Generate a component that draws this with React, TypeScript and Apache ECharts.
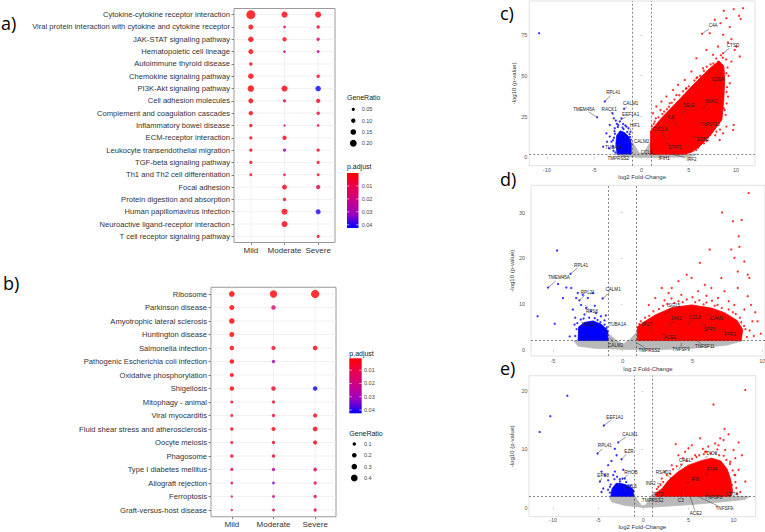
import React, { useEffect, useRef } from "react";
import * as echarts from "echarts";

const FONT = "'Liberation Sans', Arial, Helvetica, sans-serif";
const PANEL_FONT = "'Open Sans', 'Noto Sans', sans-serif";

// ---------------- Panel a (KEGG dot plot) ----------------
const severities = ["Mild", "Moderate", "Severe"];
const aPathways = [
  "Cytokine-cytokine receptor interaction",
  "Viral protein interaction with cytokine and cytokine receptor",
  "JAK-STAT signaling pathway",
  "Hematopoietic cell lineage",
  "Autoimmune thyroid disease",
  "Chemokine signaling pathway",
  "PI3K-Akt signaling pathway",
  "Cell adhesion molecules",
  "Complement and coagulation cascades",
  "Inflammatory bowel disease",
  "ECM-receptor interaction",
  "Leukocyte transendothelial migration",
  "TGF-beta signaling pathway",
  "Th1 and Th2 cell differentiation",
  "Focal adhesion",
  "Protein digestion and absorption",
  "Human papillomavirus infection",
  "Neuroactive ligand-receptor interaction",
  "T cell receptor signaling pathway",
];
// GeneRatio per pathway: [Mild, Moderate, Severe]
const aGeneRatio: (number | null)[][] = [
  [0.29, 0.17, 0.17],
  [0.125, 0.03, 0.06],
  [0.145, 0.1, 0.06],
  [0.125, 0.03, 0.04],
  [0.06, null, null],
  [0.145, null, 0.06],
  [0.19, 0.17, 0.145],
  [0.125, 0.06, 0.1],
  [0.1, null, 0.06],
  [0.06, 0.015, 0.03],
  [0.055, 0.1, null],
  [0.06, 0.06, 0.06],
  [0.05, null, 0.05],
  [0.04, 0.03, 0.04],
  [null, 0.125, 0.1],
  [null, 0.06, null],
  [null, 0.17, 0.125],
  [null, 0.17, null],
  [null, null, 0.05],
];
const aPadj: (number | null)[][] = [
  [0.0005, 0.002, 0.003],
  [0.001, 0.016, 0.006],
  [0.001, 0.003, 0.016],
  [0.001, 0.022, 0.022],
  [0.002, null, null],
  [0.001, null, 0.004],
  [0.001, 0.002, 0.042],
  [0.001, 0.012, 0.004],
  [0.002, null, 0.007],
  [0.002, 0.02, 0.012],
  [0.003, 0.003, null],
  [0.003, 0.03, 0.004],
  [0.003, null, 0.004],
  [0.004, 0.013, 0.005],
  [null, 0.003, 0.012],
  [null, 0.004, null],
  [null, 0.002, 0.04],
  [null, 0.002, null],
  [null, null, 0.005],
];
const aRatioBreaks = [0.05, 0.1, 0.15, 0.2];
const aRatioLabels = ["0.05", "0.10", "0.15", "0.20"];
const aPadjBreaks = [0.01, 0.02, 0.03, 0.04];
const aPadjRange = [0, 0.0425];

// ---------------- Panel b (KEGG dot plot) ----------------
const bPathways = [
  "Ribosome",
  "Parkinson disease",
  "Amyotrophic lateral sclerosis",
  "Huntington disease",
  "Salmonella infection",
  "Pathogenic Escherichia coli infection",
  "Oxidative phosphorylation",
  "Shigellosis",
  "Mitophagy - animal",
  "Viral myocarditis",
  "Fluid shear stress and atherosclerosis",
  "Oocyte meiosis",
  "Phagosome",
  "Type I diabetes mellitus",
  "Allograft rejection",
  "Ferroptosis",
  "Graft-versus-host disease",
];
const bGeneRatio: (number | null)[][] = [
  [0.31, 0.455, 0.545],
  [0.245, 0.2, null],
  [0.29, null, null],
  [0.245, null, null],
  [0.2, 0.18, 0.23],
  [0.2, 0.11, null],
  [0.155, null, null],
  [0.2, 0.2, 0.2],
  [0.065, 0.08, null],
  [0.065, 0.09, 0.18],
  [0.11, 0.17, 0.23],
  [0.065, 0.09, 0.18],
  [0.11, 0.11, null],
  [0.08, 0.11, 0.135],
  [0.045, 0.045, 0.09],
  [0.01, 0.065, 0.09],
  [0.01, 0.065, 0.09],
];
const bPadj: (number | null)[][] = [
  [0.001, 0.001, 0.001],
  [0.002, 0.016, null],
  [0.001, null, null],
  [0.001, null, null],
  [0.002, 0.006, 0.003],
  [0.002, 0.03, null],
  [0.002, null, null],
  [0.002, 0.006, 0.041],
  [0.007, 0.008, null],
  [0.006, 0.008, 0.004],
  [0.004, 0.003, 0.003],
  [0.006, 0.006, 0.004],
  [0.008, 0.008, null],
  [0.012, 0.024, 0.014],
  [0.014, 0.034, 0.012],
  [0.016, 0.022, 0.012],
  [0.014, 0.012, 0.012],
];
const bRatioBreaks = [0.1, 0.2, 0.3, 0.4];
const bRatioLabels = ["0.1", "0.2", "0.3", "0.4"];
const bPadjBreaks = [0.01, 0.02, 0.03, 0.04];
const bPadjRange = [0.001, 0.0425];

const gradientColors = ["#FF0000", "#E8004F", "#C90089", "#9A00C3", "#0000FF"];

// ---------------- Panel c (volcano) ----------------
const cXRange = [-11.85, 12];
const cYRange = [-5.15, 95.8];
const cXTicks = [-10, -5, 0, 5, 10];
const cYTicks = [0, 25, 50, 75];
const cGreyCloud = [[-2.8, 1.9], [-1, 1.9], [-1, 10], [-0.6, 6], [-0.2, 2.5], [0.2, 2.5], [0.6, 6], [1, 10], [1, 1.9], [6, 1.9], [5, 0.4], [2, -0.1], [0, 0], [-2, 0.3]];
const cBlueCloud = [[-2.57, 2.0], [-2.7, 8.6], [-2.6, 13.5], [-2.25, 16.2], [-1.8, 15.2], [-1.35, 12.7], [-1.08, 8.6], [-1.08, 2.0]];
const cRedCloud = [[0.95, 1.9], [0.95, 16], [2.1, 24], [3.6, 33], [5.4, 44], [7.2, 54.5], [8.2, 59], [8.7, 56], [8.8, 48], [8.7, 35], [8.5, 23], [7.3, 13.5], [6.2, 7], [5.4, 3.4], [4.6, 1.9]];
const cBluePts = [[-3.87, 34.2], [-4.68, 24.5], [-1.83, 29.7], [-3.06, 27.0], [-2.92, 23.9], [-2.71, 22.5], [-3.35, 19.8], [-3.7, 14.7], [-3.35, 12.7], [-3.17, 9.6], [-2.99, 6.5], [-3.42, 5.5], [-2.29, 21.9], [-1.94, 20.4], [-1.58, 18.8], [-1.37, 17.8], [-1.16, 15.7], [-2.11, 23.9], [-2.46, 19.8], [-2.82, 17.8], [-10.81, 76.1], [-3.63, 9.6], [-4.05, 6.5], [-2.9, 12], [-2.85, 16], [-2.5, 18.6], [-2.0, 18.2], [-1.5, 15.5], [-1.2, 12.5], [-2.6, 20.5], [-1.7, 19.5], [-3.0, 10.5], [-2.95, 4], [-2.75, 3], [-1.12, 10.8], [-2.8, 14.5], [-1.9, 17.3], [-1.25, 14.2]];
const cRedPts = [[8.7, 89.8], [9.75, 90.8], [10.74, 91.4], [10.32, 86.7], [10.49, 84.7], [8.98, 85.3], [8.35, 82.2], [7.75, 84.3], [9.33, 79.8], [7.22, 76.1], [8.63, 75.1], [9.51, 72.4], [9.15, 70.3], [10.04, 67.9], [9.86, 65.8], [8.1, 67.9], [6.87, 65.8], [5.81, 60.7], [7.57, 62.8], [10.39, 61.8], [9.51, 58.7], [6.51, 54.6], [5.28, 52.6], [4.58, 47.4], [3.87, 44.4], [3.35, 41.3], [2.64, 37.2], [2.11, 34.2], [1.58, 31.1], [1.23, 27.0], [3.7, 38.2], [4.75, 42.3], [5.81, 48.5], [6.87, 50.5], [8.98, 51.5], [9.33, 45.4], [9.15, 37.2], [8.8, 29.0], [8.98, 18.8], [9.75, 19.8], [9.68, 16.8], [7.92, 15.7], [7.22, 13.7], [8.63, 14.7], [6.34, 9.6], [5.63, 8.6], [8.27, 10.6], [1.51, 23.9], [2.01, 29.0], [2.99, 33.1], [6.41, 75.7], [8.63, 63.8],
  [1.1, 19], [1.4, 22], [1.8, 24.5], [2.4, 28], [2.9, 31], [3.2, 33.5], [4.0, 38], [4.4, 40.5], [5.0, 43.5], [5.6, 47], [6.2, 50], [6.6, 53], [7.6, 57.5], [7.9, 60.5], [8.4, 62.5], [8.95, 60], [9.1, 55], [9.2, 50], [9.05, 43], [9.0, 33], [8.9, 26], [8.3, 17], [7.8, 13.5], [6.9, 10], [6.0, 6], [5.2, 3.8], [1.3, 20.5], [2.2, 26.5], [3.5, 35.5], [4.7, 42], [5.9, 49], [7.3, 57], [8.6, 61], [9.0, 40], [8.7, 30], [8.0, 20], [7.5, 16], [6.6, 8.5], [5.8, 4.5], [2.7, 29.5], [6.9, 55.5], [8.1, 58.6]];
// [gene, point x, point y, label x, label y]
const cLabels: [string, number, number, number, number][] = [
  ["C4A", 6.41, 75.7, 7.58, 80.5],
  ["CTSD", 8.63, 63.8, 9.68, 68.5],
  ["CDSN", 7.6, 44, 8.11, 47.8],
  ["SNAI1", 6.5, 30, 7.41, 34.1],
  ["SELE", 4.3, 26, 5.0, 31.5],
  ["IL6", 3.8, 19, 3.11, 24.5],
  ["TNFSF13", 6.0, 22, 7.23, 20.4],
  ["CXCL8", 2.6, 11, 1.95, 17.2],
  ["EDN2", 5.4, 13, 6.53, 11.0],
  ["STAT1", 2.6, 9, 3.54, 6.1],
  ["IFIH1", 1.9, 1.4, 2.4, -1.0],
  ["IRF2", 3.2, 2.0, 5.3, -1.2],
  ["CCL5", 1.6, 1.6, 0.55, 2.8],
  ["CALM2", -0.81, 8.2, 0.02, 9.8],
  ["TUBA1A", -2.11, 4.9, -2.9, 6.0],
  ["TMPRSS2", -1.76, 1.4, -2.45, -1.0],
  ["HIF1", -1.23, 16.8, -0.69, 19.2],
  ["EEF1A1", -2.29, 22.5, -1.14, 26.4],
  ["CALM1", -1.83, 29.7, -1.14, 32.7],
  ["RACK1", -2.9, 25.5, -3.4, 29.6],
  ["RPL41", -3.87, 34.2, -2.98, 39.6],
  ["TMEM45A", -4.68, 24.5, -6.07, 29.6],
];

// ---------------- Panel d (volcano) ----------------
const dXRange = [-6.57, 10.2];
const dYRange = [-1.38, 35.97];
const dXTicks = [-5, 0, 5, 10];
const dYTicks = [0, 10, 20, 30];
const dGreyCloud = [[-3.5, 1.95], [-1, 1.95], [-1, 3.5], [-0.5, 2.2], [0, 1.2], [0.5, 2.2], [1, 3.8], [1, 1.95], [8.6, 1.95], [7.5, 1.0], [5, 0.3], [2.5, 0], [0, 0.1], [-2, 0.3], [-3.2, 0.8]];
const dBlueCloud = [[-3.2, 2], [-3.15, 5.0], [-2.7, 6.0], [-2.1, 6.3], [-1.5, 5.5], [-1.08, 4.2], [-1.05, 2]];
const dRedCloud = [[1.05, 2], [1.05, 5.0], [1.6, 6.2], [2.34, 7.6], [3.52, 9.2], [4.94, 9.8], [6.36, 9.1], [7.3, 8.1], [8.2, 6.4], [8.6, 4.4], [8.5, 2]];
const dBluePts = [[-4.7, 21.7], [-3.74, 16.6], [-5.34, 13.6], [-4.63, 14.4], [-6.1, 7.3], [-4.87, 5.7], [-4.04, 13.6], [-3.69, 13.5], [-3.22, 12.4], [-2.86, 12], [-2.5, 11.3], [-2.15, 12.4], [-1.44, 11.2], [-3.33, 11.3], [-2.98, 9.8], [-2.62, 9.1], [-2.27, 8.4], [-1.91, 8], [-2.74, 7.7], [-1.56, 7.3], [-1.21, 7.5], [-3.8, 2.9], [-3.45, 5.5], [-4.28, 11.3], [-3.57, 8.8], [-3.1, 10.8], [-2.0, 9.6], [-3.4, 7.0], [-1.3, 6.4],
  [-3.3, 4.5], [-3.0, 6.6], [-2.4, 7.0], [-1.8, 6.5], [-1.3, 5.5], [-1.1, 3.8], [-3.4, 3.0], [-2.8, 6.8], [-2.0, 6.9], [-3.25, 5.8], [-1.6, 6.0], [-1.15, 4.8]];
const dRedPts = [[9.03, 34.3], [7.12, 30], [7.9, 28.1], [8.53, 28.4], [8.32, 24.8], [8.37, 22.5], [7.78, 21.9], [6.24, 21.9], [5.53, 19], [8.01, 20.1], [8.72, 19.3], [8.25, 17.1], [8.96, 16.4], [7.07, 15.7], [4.59, 16.4], [4.94, 15.7], [4.0, 15], [5.89, 14.2], [6.36, 13.5], [7.3, 12.8], [8.25, 13.5], [8.96, 11.7], [9.2, 9.8], [9.3, 6.2], [2.81, 13.5], [3.29, 12.4], [2.34, 11.3], [1.87, 9.8], [5.41, 12.8], [3.52, 13.5], [6.83, 11.3], [8.72, 8.8], [9.67, 6.2], [9.08, 15.7], [4.2, 12.0], [6.0, 11.8], [7.6, 10.6], [5.0, 11.5], [3.0, 10.8], [8.0, 9.8], [9.5, 8.2], [9.9, 3.5], [9.4, 3.0],
  [1.3, 6.2], [1.9, 7.4], [2.6, 8.9], [3.2, 10], [4.0, 10.6], [4.6, 11], [5.5, 10.8], [6.0, 10.3], [6.8, 9.8], [7.6, 8.8], [8.1, 7.8], [8.5, 6], [8.8, 4.5], [8.9, 2.8], [1.6, 7.0], [2.2, 8.4], [2.9, 9.6], [3.7, 10.2], [4.3, 10.4], [5.2, 10.4], [5.8, 9.9], [6.6, 9.6], [7.1, 9.1], [7.9, 8.2], [8.4, 7.0], [8.7, 5.2], [1.2, 5.6], [9.1, 4.2], [3.5, 11.2], [6.4, 10.7]];
const dLabels: [string, number, number, number, number][] = [
  ["RPL41", -3.74, 16.6, -2.98, 18.5],
  ["TMEM45A", -5.34, 13.6, -4.56, 15.7],
  ["RPL21", -3.1, 10.8, -2.5, 12.6],
  ["CALM1", -1.44, 11.2, -0.69, 13.1],
  ["RPS6", -2.7, 9.8, -2.2, 8.3],
  ["SDC2", -3.0, 6.0, -2.5, 5.6],
  ["TUBA1A", -1.2, 5.0, -0.38, 5.6],
  ["CALM2", -0.92, 2.55, -0.5, 0.95],
  ["TMPRSS2", 1.04, 1.46, 1.91, -0.2],
  ["TNFSF9", 4.2, 1.5, 4.18, 0],
  ["TNFSF11", 5.3, 2.0, 5.89, 0.7],
  ["FPR1", 7.2, 4.5, 7.7, 3.4],
  ["SPP1", 5.6, 6, 6.24, 4.4],
  ["ICAM1", 6.1, 8, 6.71, 6.9],
  ["CCL8", 4.6, 5.3, 5.18, 7.1],
  ["JAK2", 3.3, 5.0, 3.83, 6.9],
  ["ISG15", 3.0, 7.5, 3.64, 9.7],
  ["IFI27", 2.2, 3.8, 1.75, 5.5],
  ["ACE2", 2.8, 3.6, 3.4, 2.6],
];

// ---------------- Panel e (volcano) ----------------
const eXRange = [-12.66, 12.45];
const eYRange = [-1.54, 22.64];
const eXTicks = [-10, -5, 0, 5, 10];
const eYTicks = [0, 10, 20];
const eGreyCloud = [[-3.8, 1.95], [-1, 1.95], [-1, 2.3], [-0.6, 1.2], [-0.2, 0.4], [0.2, 0.4], [0.6, 1.2], [1, 2.3], [1, 1.95], [11.8, 1.95], [11.2, 1.4], [8, 0.9], [5, 0.5], [2, 0.2], [0, 0.05], [-2, 0.4], [-3.5, 1.0]];
const eBlueCloud = [[-3.6, 1.95], [-3.45, 3.3], [-3.0, 4.2], [-2.3, 4.1], [-1.6, 3.7], [-1.12, 3.1], [-1.08, 1.95]];
const eRedCloud = [[1.37, 1.95], [1.37, 2.5], [2.04, 3.2], [2.78, 4.7], [3.89, 6.2], [5.0, 7.3], [6.48, 8.1], [7.59, 8.5], [8.6, 8.0], [9.3, 6.6], [9.7, 4.7], [9.9, 2.7], [9.7, 1.95]];
const eBluePts = [[-8.41, 19.2], [-10.3, 15.7], [-11.48, 13.0], [-4.37, 14.1], [-5.07, 9.3], [-2.78, 11.2], [-2.41, 8.3], [-2.96, 9.0], [-3.15, 10.1], [-3.52, 8.0], [-3.89, 7.3], [-4.63, 6.2], [-4.26, 5.6], [-4.81, 4.5], [-3.89, 4.7], [-2.22, 6.5], [-3.15, 6.2], [-2.59, 4.5], [-3.7, 3.6], [-4.44, 3.3], [-2.04, 5.0], [-3.33, 5.6], [-4.63, 2.7], [-1.67, 3.6],
  [-3.7, 2.6], [-3.6, 4.0], [-3.2, 4.9], [-2.6, 4.9], [-1.9, 4.4], [-1.4, 3.8], [-1.1, 2.9], [-3.9, 3.1], [-2.9, 5.3], [-2.3, 5.0], [-1.3, 3.3]];
const eRedPts = [[11.3, 20.2], [7.78, 17.7], [9.0, 13.5], [9.44, 12.6], [8.89, 11.6], [6.3, 11.9], [3.59, 10.9], [5.37, 10.7], [7.2, 10.5], [10.56, 11.2], [10.93, 9.0], [10.19, 8.5], [7.96, 11.0], [4.63, 9.6], [10.56, 6.5], [11.3, 4.5], [10.74, 2.7], [3.15, 7.3], [2.04, 5.0], [2.41, 6.2], [8.33, 10.7], [9.07, 9.9], [3.89, 9.0], [6.85, 9.6], [9.63, 7.9], [10.19, 5.6], [9.81, 3.9], [5.74, 9.0], [1.67, 3.6], [5.0, 10.2], [10.0, 9.9], [8.52, 11.9],
  [1.5, 3.2], [2.2, 4.4], [2.6, 5.6], [3.3, 6.6], [4.2, 7.4], [5.4, 8.4], [6.2, 9.0], [7.0, 9.6], [8.0, 9.4], [8.9, 8.9], [9.6, 7.5], [10.1, 5.6], [10.3, 3.4], [10.4, 2.4], [1.9, 3.9], [3.0, 5.8], [3.7, 7.1], [4.8, 8.1], [5.9, 8.7], [6.7, 9.2], [7.5, 9.3], [8.4, 9.0], [9.2, 8.2], [9.9, 6.4], [10.2, 4.4], [4.4, 8.5], [6.6, 10.1], [8.2, 10.0]];
const eLabels: [string, number, number, number, number][] = [
  ["EEF1A1", -4.37, 14.1, -3.15, 15.5],
  ["CALM1", -2.78, 11.2, -1.48, 12.6],
  ["RPL41", -5.07, 9.3, -4.26, 10.6],
  ["EZR", -2.41, 8.3, -1.59, 9.7],
  ["RHOB", -2.41, 4.7, -1.37, 6.1],
  ["EPS8", -4.8, 4.4, -4.44, 5.6],
  ["MYL6", -2.22, 2.7, -1.37, 3.7],
  ["INF2", 2.04, 4.2, 0.81, 4.2],
  ["TMPRSS2", 2.04, 1.9, 1.04, 1.2],
  ["C3", 4.26, 3.3, 4.15, 1.2],
  ["ACE2", 5.19, 1.9, 5.81, -1.0],
  ["TNFSF9", 6.1, 1.9, 8.96, -0.2],
  ["TNFSF8", 6.85, 2.7, 7.78, 1.8],
  ["CD74", 9.07, 2.7, 9.81, 2.3],
  ["RSAD2", 3.15, 5.0, 2.22, 6.1],
  ["OASL", 3.89, 6.5, 4.63, 8.1],
  ["DIO1", 6.85, 8.5, 7.59, 9.3],
  ["IFI6", 4.81, 4.2, 5.74, 4.9],
  ["IFI44", 6.85, 5.6, 7.59, 6.5],
  ["IFIT3", 2.41, 2.7, 1.6, 2.3],
];

const volcanoThresholdX = [-1, 1];
const volcanoThresholdY = 2;

// ---------------- helpers ----------------
const aSize = (v: number) => 2 + 24 * v;
const bSize = (v: number) => 2.3 + 11 * v;

function dotRows(pathways: string[], ratios: (number | null)[][], padj: (number | null)[][]) {
  const out: any[] = [];
  pathways.forEach((p, i) =>
    severities.forEach((s, j) => {
      const r = ratios[i][j];
      if (r != null) out.push([s, p, r, padj[i][j]]);
    })
  );
  return out;
}

function gridLineSeries(idx: number, rows: string[]) {
  const data: any[] = [];
  rows.forEach((r) => data.push([severities[0], r, 0]));
  severities.forEach((s) => data.push([s, rows[0], 1]));
  return {
    type: "custom",
    xAxisIndex: idx,
    yAxisIndex: idx,
    silent: true,
    z: 1,
    data,
    renderItem: (params: any, api: any) => {
      const cs = params.coordSys;
      const pt = api.coord([api.value(0), api.value(1)]);
      const horiz = api.value(2) === 0;
      return {
        type: "line",
        shape: horiz
          ? { x1: cs.x, y1: pt[1], x2: cs.x + cs.width, y2: pt[1] }
          : { x1: pt[0], y1: cs.y, x2: pt[0], y2: cs.y + cs.height },
        style: { stroke: "#ebebeb", lineWidth: 0.7 },
      };
    },
  };
}

function dotAxes(idx: number, pathways: string[]) {
  const tick = { show: true, alignWithLabel: true, length: 2.5, lineStyle: { color: "#333", width: 0.6 } };
  return {
    x: {
      gridIndex: idx,
      type: "category",
      data: severities,
      axisLine: { show: false },
      axisTick: tick,
      axisLabel: { fontSize: 8, color: "#333333", margin: 4, fontFamily: FONT, interval: 0 },
      splitLine: { show: false },
    },
    y: {
      gridIndex: idx,
      type: "category",
      data: pathways,
      inverse: true,
      axisLine: { show: false },
      axisTick: tick,
      axisLabel: { fontSize: 7.6, color: "#333333", margin: 4, fontFamily: FONT, interval: 0 },
      splitLine: { show: false },
    },
  };
}

function polygonSeries(idx: number, poly: number[][], color: string, z: number) {
  return {
    type: "custom",
    xAxisIndex: idx,
    yAxisIndex: idx,
    silent: true,
    z,
    data: [[poly[0][0], poly[0][1]]],
    renderItem: (params: any, api: any) => ({
      type: "polygon",
      shape: { points: poly.map((p) => api.coord(p)) },
      style: { fill: color, stroke: color, lineWidth: 0.8, lineJoin: "round" },
    }),
  };
}

function scatterSeries(idx: number, pts: number[][], color: string, z: number, withLines = false) {
  const s: any = {
    type: "scatter",
    xAxisIndex: idx,
    yAxisIndex: idx,
    silent: true,
    z,
    symbolSize: 2.3,
    itemStyle: { color },
    data: pts,
  };
  if (withLines) {
    s.markLine = {
      silent: true,
      symbol: ["none", "none"],
      label: { show: false },
      lineStyle: { type: [2, 2], color: "#333", width: 0.6 },
      data: [
        { xAxis: volcanoThresholdX[0] },
        { xAxis: volcanoThresholdX[1] },
        { yAxis: volcanoThresholdY },
      ],
    };
  }
  return s;
}

function labelSeries(idx: number, labels: [string, number, number, number, number][]) {
  return {
    type: "custom",
    xAxisIndex: idx,
    yAxisIndex: idx,
    silent: true,
    z: 10,
    data: labels.map((l) => [l[1], l[2], l[3], l[4]]),
    renderItem: (params: any, api: any) => {
      const name = labels[params.dataIndex][0];
      const p = api.coord([api.value(0), api.value(1)]);
      const t = api.coord([api.value(2), api.value(3)]);
      const fs = 4.6;
      const hw = name.length * fs * 0.3 + 0.8;
      const hh = fs * 0.55 + 0.4;
      const dx = t[0] - p[0];
      const dy = t[1] - p[1];
      const s = Math.min(dx !== 0 ? hw / Math.abs(dx) : Infinity, dy !== 0 ? hh / Math.abs(dy) : Infinity);
      const children: any[] = [];
      if (s < 1) {
        children.push({
          type: "line",
          shape: { x1: p[0], y1: p[1], x2: t[0] - dx * s, y2: t[1] - dy * s },
          style: { stroke: "#333", lineWidth: 0.5 },
        });
      }
      children.push({
        type: "text",
        x: t[0],
        y: t[1],
        style: { text: name, fontSize: fs, fontFamily: FONT, fill: "#222", align: "center", verticalAlign: "middle" },
      });
      return { type: "group", children };
    },
  };
}

function volcanoAxes(
  idx: number,
  xr: number[],
  yr: number[],
  xt: number[],
  yt: number[],
  xName: string,
  yName: string,
  xLabelMargin: number,
  xNameGap: number,
  yLabelMargin: number,
  yNameGap: number
) {
  const lab = { fontSize: 5.5, color: "#555", fontFamily: FONT };
  const tick = { show: true, length: 1.8, lineStyle: { color: "#999", width: 0.5 } };
  return {
    x: {
      gridIndex: idx,
      type: "value",
      min: xr[0],
      max: xr[1],
      axisLine: { show: false },
      axisTick: { ...tick, customValues: xt },
      axisLabel: { ...lab, margin: xLabelMargin, customValues: xt },
      splitLine: { show: false },
      name: xName,
      nameLocation: "middle",
      nameGap: xNameGap,
      nameTextStyle: { fontSize: 6, color: "#333", fontFamily: FONT },
    },
    y: {
      gridIndex: idx,
      type: "value",
      min: yr[0],
      max: yr[1],
      axisLine: { show: false },
      axisTick: { ...tick, customValues: yt },
      axisLabel: { ...lab, margin: yLabelMargin, customValues: yt },
      splitLine: { show: false },
      name: yName,
      nameLocation: "middle",
      nameGap: yNameGap,
      nameTextStyle: { fontSize: 6, color: "#333", fontFamily: FONT },
    },
  };
}

function sizeLegend(x: number, titleY: number, dotX: number, dotYs: number[], labelX: number, breaks: number[], labels: string[], sizeFn: (v: number) => number) {
  const els: any[] = [
    { type: "text", x, y: titleY, style: { text: "GeneRatio", fontSize: 7, fontFamily: FONT, fill: "#222", verticalAlign: "middle" } },
  ];
  breaks.forEach((b, i) => {
    els.push({ type: "circle", shape: { cx: dotX, cy: dotYs[i], r: sizeFn(b) / 2 }, style: { fill: "#000" } });
    els.push({ type: "text", x: labelX, y: dotYs[i], style: { text: labels[i], fontSize: 5.5, fontFamily: FONT, fill: "#444", verticalAlign: "middle" } });
  });
  return els;
}

function colorLegend(x: number, titleY: number, barX: number, barY: number, barW: number, barH: number, labelX: number, range: number[], breaks: number[]) {
  const stops = gradientColors.map((c, i) => ({ offset: i / (gradientColors.length - 1), color: c }));
  const els: any[] = [
    { type: "text", x, y: titleY, style: { text: "p.adjust", fontSize: 7, fontFamily: FONT, fill: "#222", verticalAlign: "middle" } },
    {
      type: "rect",
      shape: { x: barX, y: barY, width: barW, height: barH },
      style: { fill: { type: "linear", x: 0, y: 0, x2: 0, y2: 1, colorStops: stops } },
    },
  ];
  breaks.forEach((b) => {
    const yy = barY + ((b - range[0]) / (range[1] - range[0])) * barH;
    els.push({ type: "line", shape: { x1: barX, y1: yy, x2: barX + barW * 0.2, y2: yy }, style: { stroke: "#fff", lineWidth: 0.6 } });
    els.push({ type: "line", shape: { x1: barX + barW * 0.8, y1: yy, x2: barX + barW, y2: yy }, style: { stroke: "#fff", lineWidth: 0.6 } });
    els.push({ type: "text", x: labelX, y: yy, style: { text: b.toFixed(2), fontSize: 5.5, fontFamily: FONT, fill: "#444", verticalAlign: "middle" } });
  });
  return els;
}

function buildOption() {
  const ax = dotAxes(0, aPathways);
  const bx = dotAxes(1, bPathways);
  const cx = volcanoAxes(2, cXRange, cYRange, cXTicks, cYTicks, "log2 Fold-Change", "-log10 (p-value)", 1.2, 6.5, 2, 10);
  const dx = volcanoAxes(3, dXRange, dYRange, dXTicks, dYTicks, "log 2 Fold-Change", "-log10 (p-value)", 2.3, 10, 6, 16);
  const ex = volcanoAxes(4, eXRange, eYRange, eXTicks, eYTicks, "log2 Fold-Change", "-log10 (p-value)", 0.5, 7.5, 1.5, 14);

  const dotGrid = { show: true, borderColor: "#808080", borderWidth: 0.8, backgroundColor: "#fff", outerBoundsMode: "none", containLabel: false };
  const volGrid = { show: true, borderColor: "#d4d4d4", borderWidth: 0.7, backgroundColor: "#fff", outerBoundsMode: "none", containLabel: false };

  const series: any[] = [];
  series.push(gridLineSeries(0, aPathways));
  const aDotIdx = series.length;
  series.push({
    type: "scatter",
    xAxisIndex: 0,
    yAxisIndex: 0,
    z: 3,
    silent: true,
    symbolSize: (v: any) => aSize(v[2]),
    data: dotRows(aPathways, aGeneRatio, aPadj),
  });
  series.push(gridLineSeries(1, bPathways));
  const bDotIdx = series.length;
  series.push({
    type: "scatter",
    xAxisIndex: 1,
    yAxisIndex: 1,
    z: 3,
    silent: true,
    symbolSize: (v: any) => bSize(v[2]),
    data: dotRows(bPathways, bGeneRatio, bPadj),
  });

  const volc = [
    { idx: 2, grey: cGreyCloud, blue: cBlueCloud, red: cRedCloud, bp: cBluePts, rp: cRedPts, labels: cLabels },
    { idx: 3, grey: dGreyCloud, blue: dBlueCloud, red: dRedCloud, bp: dBluePts, rp: dRedPts, labels: dLabels },
    { idx: 4, grey: eGreyCloud, blue: eBlueCloud, red: eRedCloud, bp: eBluePts, rp: eRedPts, labels: eLabels },
  ];
  volc.forEach((v) => {
    series.push(polygonSeries(v.idx, v.grey, "#b9b9b9", 1));
    series.push(polygonSeries(v.idx, v.blue, "#0000ff", 2));
    series.push(polygonSeries(v.idx, v.red, "#ff0000", 2));
    series.push(scatterSeries(v.idx, v.bp, "#0000ff", 3));
    series.push(scatterSeries(v.idx, v.rp, "#ff0000", 3, true));
    series.push(labelSeries(v.idx, v.labels));
  });

  const graphic: any[] = [
    { type: "text", x: 1, y: 23, style: { text: "a)", fontSize: 18, fontFamily: PANEL_FONT, fill: "#000", verticalAlign: "middle" } },
    { type: "text", x: 3, y: 283, style: { text: "b)", fontSize: 18, fontFamily: PANEL_FONT, fill: "#000", verticalAlign: "middle" } },
    { type: "text", x: 500, y: 13, style: { text: "c)", fontSize: 18, fontFamily: PANEL_FONT, fill: "#000", verticalAlign: "middle" } },
    { type: "text", x: 500, y: 179, style: { text: "d)", fontSize: 18, fontFamily: PANEL_FONT, fill: "#000", verticalAlign: "middle" } },
    { type: "text", x: 500, y: 368, style: { text: "e)", fontSize: 18, fontFamily: PANEL_FONT, fill: "#000", verticalAlign: "middle" } },
    ...sizeLegend(347, 97.3, 353.3, [109.3, 120.7, 132, 143.3], 361.7, aRatioBreaks, aRatioLabels, aSize),
    ...colorLegend(347, 166.7, 347, 173, 11.5, 55, 361.7, aPadjRange, aPadjBreaks),
    ...colorLegend(349.3, 353.3, 349.3, 358.3, 12.4, 55, 364, bPadjRange, bPadjBreaks),
    ...sizeLegend(349.3, 433.3, 354.3, [444, 455.3, 466.7, 478], 364, bRatioBreaks, bRatioLabels, bSize),
  ];

  return {
    animation: false,
    backgroundColor: "#fff",
    textStyle: { fontFamily: FONT },
    grid: [
      { left: 234, top: 8.5, width: 101, height: 234, ...dotGrid },
      { left: 211, top: 287.25, width: 125, height: 229.5, ...dotGrid },
      { left: 529.3, top: 1, width: 225.7, height: 164.7, ...volGrid },
      { left: 531, top: 185.3, width: 234, height: 170.7, ...volGrid },
      { left: 529, top: 375.7, width: 226.7, height: 141, ...volGrid },
    ],
    xAxis: [ax.x, bx.x, cx.x, dx.x, ex.x],
    yAxis: [ax.y, bx.y, cx.y, dx.y, ex.y],
    visualMap: [
      { type: "continuous", show: false, seriesIndex: aDotIdx, dimension: 3, min: aPadjRange[0], max: aPadjRange[1], inRange: { color: gradientColors } },
      { type: "continuous", show: false, seriesIndex: bDotIdx, dimension: 3, min: bPadjRange[0], max: bPadjRange[1], inRange: { color: gradientColors } },
    ],
    series,
    graphic,
  };
}

export default function App() {
  const ref = useRef<HTMLDivElement>(null);
  useEffect(() => {
    document.body.style.margin = "0";
    if (!ref.current) return;
    const chart = echarts.init(ref.current, undefined, { renderer: "svg" });
    chart.setOption(buildOption() as any);
    return () => chart.dispose();
  }, []);
  return <div ref={ref} style={{ position: "fixed", left: 0, top: 0, width: 765, height: 532, background: "#fff" }} />;
}
